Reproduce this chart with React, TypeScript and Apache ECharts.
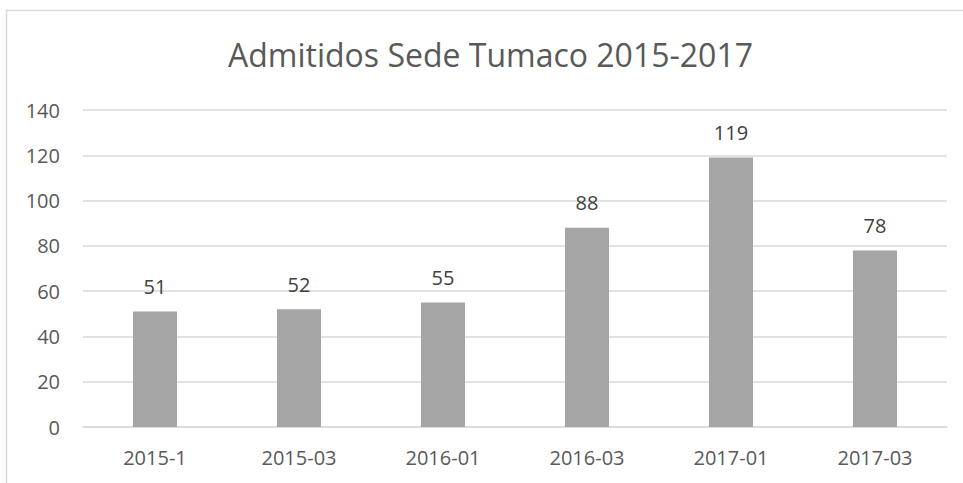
import React, { useEffect, useRef } from "react";
import * as echarts from "echarts";

const categories = ["2015-1", "2015-03", "2016-01", "2016-03", "2017-01", "2017-03"];
const values = [51, 52, 55, 88, 119, 78];
const titleText = "Admitidos Sede Tumaco 2015-2017";

export default function App() {
  const ref = useRef<HTMLDivElement>(null);
  useEffect(() => {
    if (!ref.current) return;
    const chart = echarts.init(ref.current, null, { renderer: "svg" });
    const font = "'Open Sans', 'Liberation Sans', sans-serif";
    chart.setOption({
      animation: false,
      backgroundColor: "#ffffff",
      title: {
        text: titleText,
        left: 223,
        top: 33,
        textStyle: { fontFamily: font, fontSize: 32, fontWeight: "normal", color: "#595959" },
      },
      graphic: [
        {
          type: "rect",
          shape: { x: 6.5, y: 10.5, width: 1200, height: 1000 },
          style: { fill: "none", stroke: "#d9d9d9", lineWidth: 1.5 },
          silent: true,
        },
      ],
      grid: { left: 83, right: 16, top: 110, bottom: 56, containLabel: false },
      xAxis: {
        type: "category",
        data: categories,
        axisLine: { lineStyle: { color: "#d9d9d9", width: 1.5 } },
        axisTick: { show: false },
        axisLabel: { fontFamily: font, fontSize: 20, color: "#595959", margin: 20 },
      },
      yAxis: {
        type: "value",
        min: 0,
        max: 140,
        interval: 20,
        axisLine: { show: false },
        axisTick: { show: false },
        splitLine: { lineStyle: { color: "#d9d9d9", width: 1.5 } },
        axisLabel: { fontFamily: font, fontSize: 20, color: "#595959", margin: 23 },
      },
      series: [
        {
          type: "bar",
          data: values,
          barWidth: 44,
          itemStyle: { color: "#a5a5a5" },
          label: {
            show: true,
            position: "top",
            distance: 15,
            fontFamily: font,
            fontSize: 20,
            color: "#404040",
          },
        },
      ],
    });
    return () => chart.dispose();
  }, []);
  return (
    <div
      ref={ref}
      style={{ position: "fixed", left: 0, top: 0, width: 963, height: 483 }}
    />
  );
}
